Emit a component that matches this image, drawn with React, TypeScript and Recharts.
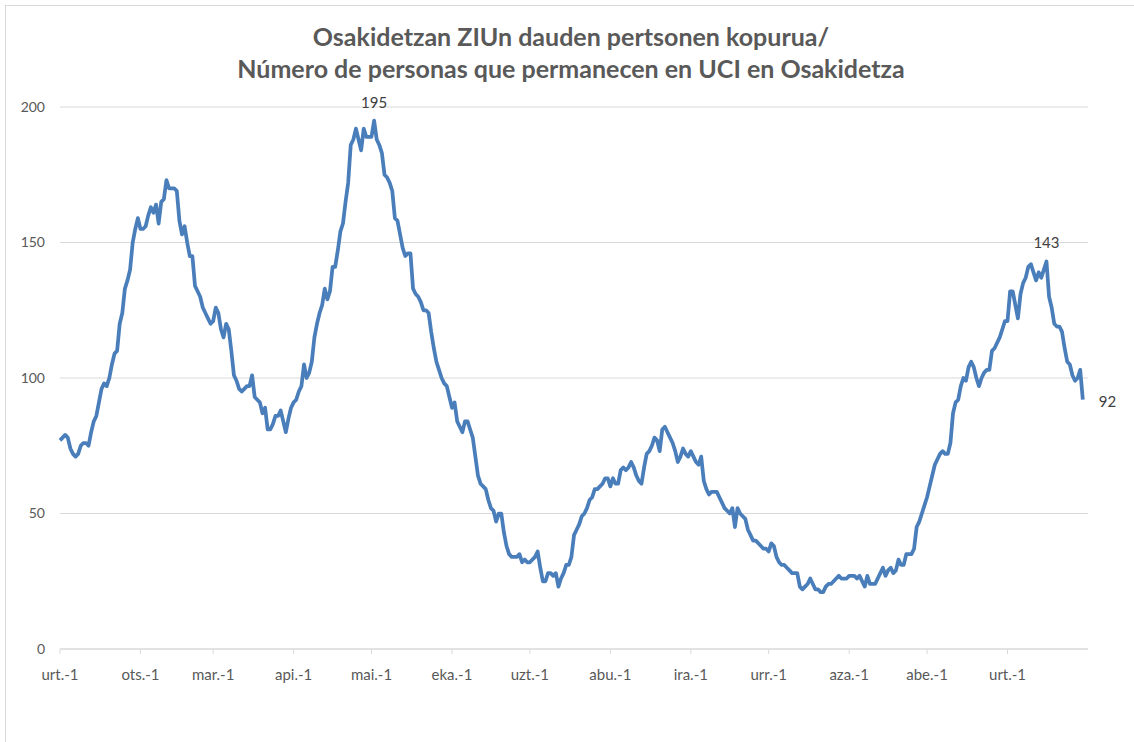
import { CartesianGrid, LabelList, Line, LineChart, XAxis, YAxis } from 'recharts';

// ICU patients per day, Jan 2021 - Jan 2022
const urt2021 = [77, 78, 79, 78, 74, 72, 71, 72, 75, 76, 76, 75, 80, 84, 86, 91, 96, 98, 97, 100, 105, 109, 110, 120, 124, 133, 136, 140, 150, 155, 159];
const ots2021 = [155, 155, 156, 160, 163, 161, 164, 157, 165, 166, 173, 170, 170, 170, 169, 158, 153, 156, 150, 145, 145, 134, 132, 130, 126, 124, 122, 120];
const mar2021 = [121, 126, 124, 118, 115, 120, 118, 110, 101, 99, 96, 95, 96, 97, 97, 101, 93, 92, 91, 87, 89, 81, 81, 83, 86, 86, 88, 84, 80, 85, 89];
const api2021 = [91, 92, 95, 97, 105, 100, 102, 106, 115, 120, 124, 127, 133, 129, 132, 141, 141, 147, 154, 157, 165, 172, 186, 188, 192, 188, 184, 192, 189, 189];
const mai2021 = [189, 195, 188, 186, 183, 175, 174, 172, 169, 159, 158, 153, 148, 145, 146, 146, 133, 131, 130, 128, 125, 125, 124, 117, 111, 106, 103, 100, 98, 97, 93];
const eka2021 = [89, 91, 84, 82, 80, 84, 84, 81, 78, 71, 64, 61, 60, 59, 55, 52, 51, 47, 50, 50, 43, 38, 35, 34, 34, 34, 35, 32, 33, 32];
const uzt2021 = [32, 33, 34, 36, 30, 25, 25, 28, 28, 27, 28, 23, 26, 28, 31, 31, 34, 42, 44, 46, 49, 50, 52, 55, 56, 59, 59, 60, 61, 63, 63];
const abu2021 = [60, 63, 61, 61, 66, 67, 66, 67, 69, 67, 64, 62, 61, 67, 72, 73, 75, 78, 77, 73, 81, 82, 80, 78, 76, 73, 69, 71, 74, 72, 71];
const ira2021 = [73, 71, 69, 68, 71, 62, 59, 57, 58, 58, 58, 56, 54, 52, 51, 50, 52, 45, 52, 50, 49, 48, 44, 42, 40, 40, 39, 38, 37, 37];
const urr2021 = [36, 39, 38, 34, 32, 31, 31, 30, 29, 28, 28, 28, 23, 22, 23, 24, 26, 24, 22, 22, 21, 21, 23, 24, 24, 25, 26, 27, 26, 26, 26];
const aza2021 = [27, 27, 27, 26, 27, 25, 23, 27, 24, 24, 24, 26, 28, 30, 27, 29, 30, 28, 29, 33, 31, 31, 35, 35, 35, 37, 45, 47, 50, 53];
const abe2021 = [56, 60, 64, 68, 70, 72, 73, 72, 72, 76, 87, 91, 92, 97, 100, 99, 104, 106, 104, 100, 97, 100, 102, 103, 103, 110, 111, 113, 115, 118, 121];
const urt2022 = [121, 132, 132, 127, 122, 131, 135, 137, 141, 142, 139, 136, 139, 137, 140, 143, 130, 126, 120, 119, 119, 117, 111, 106, 105, 101, 99, 100, 103, 92];

const months = [urt2021, ots2021, mar2021, api2021, mai2021, eka2021, uzt2021, abu2021, ira2021, urr2021, aza2021, abe2021, urt2022];
const monthLabels = ['urt.-1', 'ots.-1', 'mar.-1', 'api.-1', 'mai.-1', 'eka.-1', 'uzt.-1', 'abu.-1', 'ira.-1', 'urr.-1', 'aza.-1', 'abe.-1', 'urt.-1'];
const yTicks = [0, 50, 100, 150, 200];

const allValues = months.flat();
const monthStarts = months.map((_, i) => months.slice(0, i).reduce((n, m) => n + m.length, 0));
const peakIndex = allValues.indexOf(Math.max(...allValues));
const lastStart = monthStarts[monthStarts.length - 1];
const peak2022Index = lastStart + urt2022.indexOf(Math.max(...urt2022));
const lastIndex = allValues.length - 1;

const data = allValues.map((value, day) => ({
  day,
  value,
  topLabel: day === peakIndex || day === peak2022Index ? value : undefined,
  endLabel: day === lastIndex ? value : undefined,
}));

const FONT = 'Lato, "Open Sans", sans-serif';
const GRID = '#d9d9d9';
const LINE = '#4a7ebb';

const TopLabel = (props: any) => {
  const { x, y, value } = props;
  if (value == null) return null;
  return (
    <text x={x} y={y - 13} textAnchor="middle" fill="#404040" fontSize={15} fontFamily={FONT}>
      {value}
    </text>
  );
};

const EndLabel = (props: any) => {
  const { x, y, value } = props;
  if (value == null) return null;
  return (
    <text x={x + 16} y={y + 2} dy="0.35em" fill="#404040" fontSize={15} fontFamily={FONT}>
      {value}
    </text>
  );
};

export default function App() {
  return (
    <div style={{ position: 'relative', width: 1134, height: 742, overflow: 'hidden', background: '#fff' }}>
      <style>{'body{margin:0}'}</style>
      <div
        style={{
          position: 'absolute',
          left: 5,
          top: 5,
          width: 1140,
          height: 760,
          border: `1px solid ${GRID}`,
        }}
      />
      <div
        style={{
          position: 'absolute',
          left: 5,
          top: 20,
          width: 1132,
          textAlign: 'center',
          fontFamily: FONT,
          fontWeight: 700,
          fontSize: 25,
          lineHeight: '32px',
          color: '#595959',
        }}
      >
        Osakidetzan ZIUn dauden pertsonen kopurua/
        <br />
        Número de personas que permanecen en UCI en Osakidetza
      </div>
      <LineChart width={1134} height={742} data={data} margin={{ top: 107, right: 46, left: 0, bottom: 63 }}>
        <CartesianGrid stroke={GRID} vertical={false} />
        <XAxis
          dataKey="day"
          type="number"
          domain={[0, 396]}
          ticks={monthStarts}
          tickFormatter={(v) => monthLabels[monthStarts.indexOf(v)] ?? ''}
          height={30}
          axisLine={{ stroke: GRID }}
          tickLine={{ stroke: GRID }}
          tickSize={5}
          tickMargin={15}
          tick={{ fill: '#595959', fontSize: 15, fontFamily: FONT }}
          interval={0}
        />
        <YAxis
          domain={[0, 200]}
          ticks={yTicks}
          width={60}
          axisLine={false}
          tickLine={false}
          tickMargin={9}
          tick={{ fill: '#595959', fontSize: 14, fontFamily: FONT }}
        />
        <Line
          type="linear"
          dataKey="value"
          stroke={LINE}
          strokeWidth={3.75}
          strokeLinejoin="round"
          dot={false}
          activeDot={false}
          isAnimationActive={false}
        >
          <LabelList dataKey="topLabel" content={TopLabel} />
          <LabelList dataKey="endLabel" content={EndLabel} />
        </Line>
      </LineChart>
    </div>
  );
}
